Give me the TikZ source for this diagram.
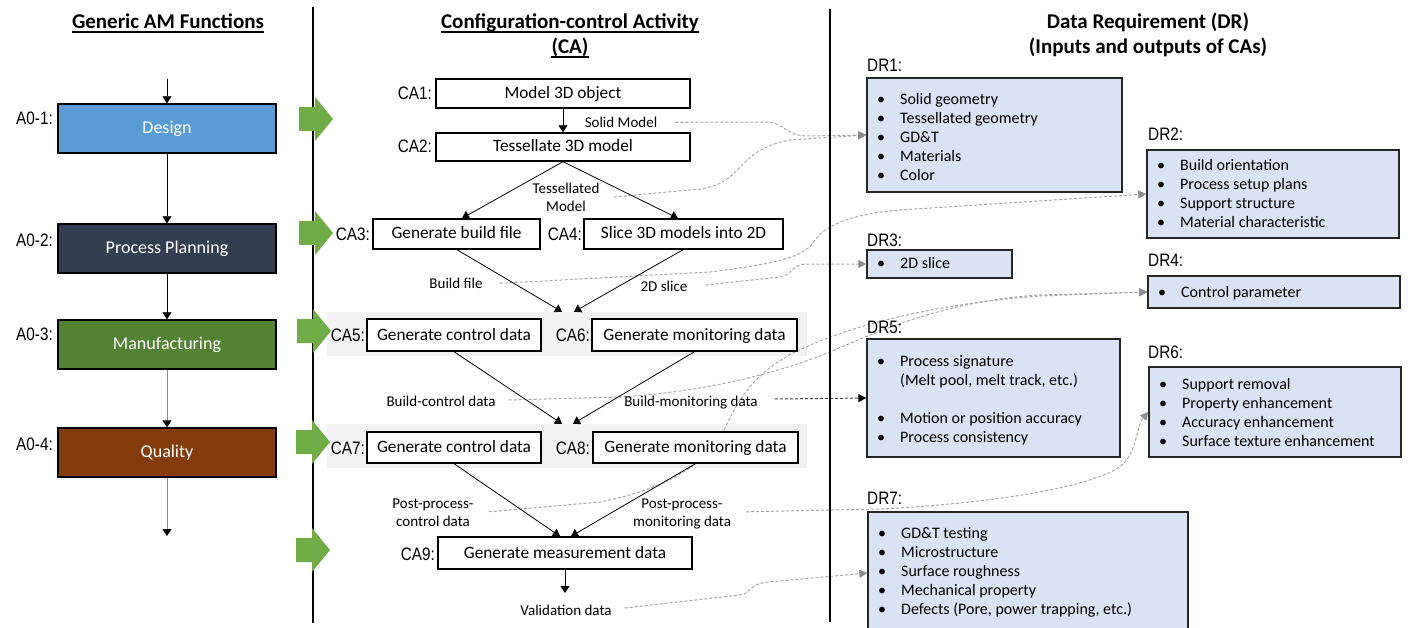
\documentclass[tikz,border=0pt]{standalone}
\usepackage{fontspec}
\setmainfont{Carlito}
\newfontfamily\narrowfont[FakeStretch=0.85]{Liberation Sans}
\usetikzlibrary{arrows.meta,calc}

\definecolor{designblue}{HTML}{5B9BD5}
\definecolor{plannavy}{HTML}{333F50}
\definecolor{mfggreen}{HTML}{548235}
\definecolor{qualbrown}{HTML}{843C0C}
\definecolor{arrowgreen}{HTML}{70AD47}
\definecolor{bandgray}{HTML}{F2F2F2}
\definecolor{drfill}{HTML}{DAE3F3}
\definecolor{linkgray}{HTML}{A6A6A6}

\newcommand\fsz[2]{\fontsize{#1}{#2}\selectfont}
\newcommand\drlist[1]{\begin{tabular}[t]{@{}p{23pt}@{}l@{}}#1\end{tabular}}
\newcommand\twoline[1]{\begin{tabular}[t]{@{}c@{}}#1\end{tabular}}

\pgfdeclarelayer{back}
\pgfdeclarelayer{mid}
\pgfsetlayers{back,mid,main}

\tikzset{
  func/.style={draw=black, line width=1.4pt, minimum width=218pt, minimum height=49pt,
    inner sep=0pt, text=white, font=\fsz{18}{22}, text height=14pt, text depth=4pt},
  tag/.style={font=\narrowfont\fsz{18}{22}, inner sep=0pt, anchor=base east},
  drtag/.style={font=\narrowfont\fsz{18}{22}, inner sep=0pt, anchor=base west},
  act/.style={draw=black, line width=1.4pt, fill=white, inner sep=0pt,
    font=\fsz{17.3}{20}, text height=14pt, text depth=4pt},
  band/.style={fill=bandgray, inner sep=0pt, minimum width=480pt, minimum height=44pt},
  note/.style={font=\fsz{15}{18}, inner sep=0pt, anchor=base},
  req/.style={draw=black!85, line width=1.4pt, fill=drfill, inner sep=0pt},
  reqlist/.style={font=\fsz{16}{19}, inner sep=0pt, anchor=base west},
  heading/.style={font=\bfseries\fsz{21}{26}, inner sep=0pt, anchor=base},
  flow/.style={line width=0.8pt, -{Triangle[length=7pt,width=9pt]}},
  flowgray/.style={draw=black!45, line width=0.9pt, -{Triangle[length=7pt,width=9pt,color=black]}},
  link/.style={draw=linkgray, line width=1pt, dash pattern=on 3pt off 2pt,
    -{Triangle[length=8pt,width=8pt,color=black!45]}},
  darklink/.style={draw=black!75, line width=1pt, dash pattern=on 3pt off 2pt,
    -{Triangle[length=8pt,width=8pt,color=black]}},
  greenarrow/.pic={\fill[arrowgreen] (-16,-12) -- (0,-12) -- (0,-22) -- (18,0)
    -- (0,22) -- (0,12) -- (-16,12) -- cycle;},
}

\begin{document}
\begin{tikzpicture}[x=1pt,y=-1pt]
\useasboundingbox (0,0) rectangle (1412,628);

% ---------- shaded groups behind the paired activities
\begin{pgfonlayer}{back}
  \node[band] (band1) at (567,334) {};
  \node[band] (band2) at (567,446) {};
\end{pgfonlayer}

% ---------- column headings
\node[heading] (h1) at (168,29) {Generic AM Functions};
\node[heading] (h2) at (570,29) {Configuration-control Activity};
\node[heading] (h2b) at (570,54) {(CA)};
\node[heading] (h3) at (1148,29) {Data Requirement (DR)};
\node[heading] (h3b) at (1148,54) {(Inputs and outputs of CAs)};
\foreach \h in {h1,h2,h2b}
  \draw[line width=1.3pt] ($(\h.base west)+(0,3)$) -- ($(\h.base east)+(0,3)$);

% ---------- column separators
\coordinate (s1a) at (313,7);  \coordinate (s1b) at (313,623);
\coordinate (s2a) at (830,9);  \coordinate (s2b) at (830,622);
\draw[line width=2pt] (s1a) -- (s1b);
\draw[line width=2pt] (s2a) -- (s2b);

% ---------- green phase arrows
\pic at (315,119) {greenarrow};
\pic at (315,233) {greenarrow};
\pic at (313,331) {greenarrow};
\pic at (312,442) {greenarrow};
\pic at (312,550) {greenarrow};

% ---------- generic AM functions
\node[func, fill=designblue] (f1) at (167,128.5) {Design};
\node[func, fill=plannavy]   (f2) at (167,248.5) {Process Planning};
\node[func, fill=mfggreen]   (f3) at (167,344.5) {Manufacturing};
\node[func, fill=qualbrown]  (f4) at (167,452.5) {Quality};
\node[tag] (a1) at (53,124.5) {A0-1:};
\node[tag] (a2) at (53,246.7) {A0-2:};
\node[tag] (a3) at (53,340) {A0-3:};
\node[tag] (a4) at (53,450.7) {A0-4:};
\coordinate (fin) at (167,79);
\coordinate (fout) at (167,536);
\draw[flow] (fin) -- (f1.north);
\draw[flow] (f1.south) -- (f2.north);
\draw[flow] (f2.south) -- (f3.north);
\draw[flowgray] (f3.south) -- (f4.north);
\draw[flowgray] (f4.south) -- (fout);

% ---------- configuration-control activities
\node[act, minimum width=254pt, minimum height=29pt] (ca1) at (563,93.5) {Model 3D object};
\node[act, minimum width=254pt, minimum height=28pt] (ca2) at (563,147) {Tessellate 3D model};
\node[act, minimum width=167pt, minimum height=30pt] (ca3) at (456.5,234) {Generate build file};
\node[act, minimum width=199pt, minimum height=30pt] (ca4) at (683.5,234) {Slice 3D models into 2D};
\node[act, minimum width=174pt, minimum height=32pt] (ca5) at (454,335) {Generate control data};
\node[act, minimum width=205pt, minimum height=32pt] (ca6) at (694.5,335) {Generate monitoring data};
\node[act, minimum width=174pt, minimum height=31pt] (ca7) at (454,447.5) {Generate control data};
\node[act, minimum width=205pt, minimum height=31pt] (ca8) at (695.5,447.5) {Generate monitoring data};
\node[act, minimum width=254pt, minimum height=32pt] (ca9) at (565,553) {Generate measurement data};

\node[tag] (c1) at (432,100) {CA1:};
\node[tag] (c2) at (432,152.7) {CA2:};
\node[tag] (c3) at (370,240.7) {CA3:};
\node[tag] (c4) at (582,240.7) {CA4:};
\node[tag] (c5) at (365,341) {CA5:};
\node[tag] (c6) at (590,341) {CA6:};
\node[tag] (c7) at (365,454) {CA7:};
\node[tag] (c8) at (590,454) {CA8:};
\node[tag] (c9) at (435,560) {CA9:};

% data labels on the flow
\node[note] (n1) at (621,127.3) {Solid Model};
\node[note] (n2) at (566,194) {\twoline{Tessellated\\Model}};
\node[note] (n3) at (456,288.3) {Build file};
\node[note] (n4) at (664,291) {2D slice};
\node[note] (n5) at (441,406) {Build-control data};
\node[note] (n6) at (691,406) {Build-monitoring data};
\node[note] (n7) at (433,508.3) {\twoline{Post-process-\\control data}};
\node[note] (n8) at (682,508.3) {\twoline{Post-process-\\monitoring data}};
\node[note] (n9) at (566,615) {Validation data};

\coordinate (caout) at (565,593);
\draw[flow] (ca1.south) -- (ca2.north);
\draw[flow] (ca2.south) -- ($(ca3.north)+(5.5,0)$);
\draw[flow] (ca2.south) -- ($(ca4.north)+(-5.5,0)$);
\draw[flow] ($(ca3.south)+(0.5,0)$) -- ($(band1.north)+(-5,0)$);
\draw[flow] ($(ca4.south)+(-0.5,0)$) -- ($(band1.north)+(7,0)$);
\draw[flow] (ca5.south) -- ($(band2.north)+(-5,0)$);
\draw[flow] (ca6.south) -- ($(band2.north)+(6,0)$);
\draw[flow] (ca7.south) -- ($(ca9.north)+(-5,0)$);
\draw[flow] (ca8.south) -- ($(ca9.north)+(6,0)$);
\draw[flow] (ca9.south) -- (caout);

% ---------- data requirements
\node[req, minimum width=255pt, minimum height=114pt] (dr1) at (994.5,135) {};
\node[req, minimum width=252pt, minimum height=88pt]  (dr2) at (1273,194) {};
\node[req, minimum width=145pt, minimum height=28pt]  (dr3) at (939.5,264) {};
\node[req, minimum width=252pt, minimum height=32pt]  (dr4) at (1274,292) {};
\node[req, minimum width=253pt, minimum height=118pt] (dr5) at (993.5,398) {};
\node[req, minimum width=252pt, minimum height=90pt]  (dr6) at (1275,412) {};
\node[req, minimum width=320pt, minimum height=122pt] (dr7) at (1028,573) {};

\node[drtag] (d1) at (867,71.7) {DR1:};
\node[drtag] (d2) at (1148,141) {DR2:};
\node[drtag] (d3) at (867,246.7) {DR3:};
\node[drtag] (d4) at (1148,266) {DR4:};
\node[drtag] (d5) at (867,333.3) {DR5:};
\node[drtag] (d6) at (1148,358.3) {DR6:};
\node[drtag] (d7) at (867,504.3) {DR7:};

\node[reqlist] (dr1l) at (877,104.3) {\drlist{%
  \textbullet & Solid geometry\\ \textbullet & Tessellated geometry\\
  \textbullet & GD\&T\\ \textbullet & Materials\\ \textbullet & Color}};
\node[reqlist] (dr2l) at (1157,171) {\drlist{%
  \textbullet & Build orientation\\ \textbullet & Process setup plans\\
  \textbullet & Support structure\\ \textbullet & Material characteristic}};
\node[reqlist] (dr3l) at (877,268.3) {\drlist{\textbullet & 2D slice}};
\node[reqlist] (dr4l) at (1158,297.3) {\drlist{\textbullet & Control parameter}};
\node[reqlist] (dr5l) at (877,366) {\drlist{%
  \textbullet & Process signature\\ & (Melt pool, melt track, etc.)\\ & \\
  \textbullet & Motion or position accuracy\\ \textbullet & Process consistency}};
\node[reqlist] (dr6l) at (1159,389) {\drlist{%
  \textbullet & Support removal\\ \textbullet & Property enhancement\\
  \textbullet & Accuracy enhancement\\ \textbullet & Surface texture enhancement}};
\node[reqlist] (dr7l) at (878,538.3) {\drlist{%
  \textbullet & GD\&T testing\\ \textbullet & Microstructure\\
  \textbullet & Surface roughness\\ \textbullet & Mechanical property\\
  \textbullet & Defects (Pore, power trapping, etc.)}};

% ---------- dashed links from data items to requirements
\begin{pgfonlayer}{mid}
  \draw[link] ($(n1.base east)+(18,-5)$) -- (765,122)
    .. controls (785,122) and (785,136) .. (808,136) -- (dr1.west);
  \draw[link] ($(n2.base east)+(14,3)$) -- (700,189)
    .. controls (745,183) and (735,150) .. (790,140) -- (dr1.west);
  \draw[link] ($(n3.base east)+(17,-5)$) -- (710,272)
    .. controls (790,262) and (805,255) .. (815,240)
    .. controls (825,226) and (850,214) .. (900,210) -- (dr2.west);
  \draw[link] ($(n4.base east)+(18,-6)$) -- (780,277)
    .. controls (792,276) and (790,265) .. (806,264) -- (dr3.west);
  \draw[link] ($(n5.base east)+(13,-6)$) -- (620,397)
    .. controls (700,392) and (770,376) .. (830,352)
    .. controls (880,330) and (950,300) .. (1040,295) -- (dr4.west);
  \draw[link] ($(n7.base east)+(15,3.5)$) -- (600,502)
    .. controls (660,490) and (700,470) .. (723,432)
    .. controls (736,405) and (750,375) .. (795,352)
    .. controls (840,330) and (920,305) .. (1040,296) -- (dr4.west);
  \draw[darklink] ($(n6.base east)+(17,-7)$) -- (dr5.west);
  \draw[link] ($(n8.base east)+(15,3.5)$) -- (880,509)
    .. controls (1000,503) and (1105,485) .. (1125,462)
    .. controls (1137,448) and (1137,425) .. (dr6.west);
  \draw[link] ($(n9.base east)+(13,-7)$) -- (740,595)
    .. controls (752,593) and (748,584) .. (768,582) -- (dr7.west);
\end{pgfonlayer}

\end{tikzpicture}
\end{document}
